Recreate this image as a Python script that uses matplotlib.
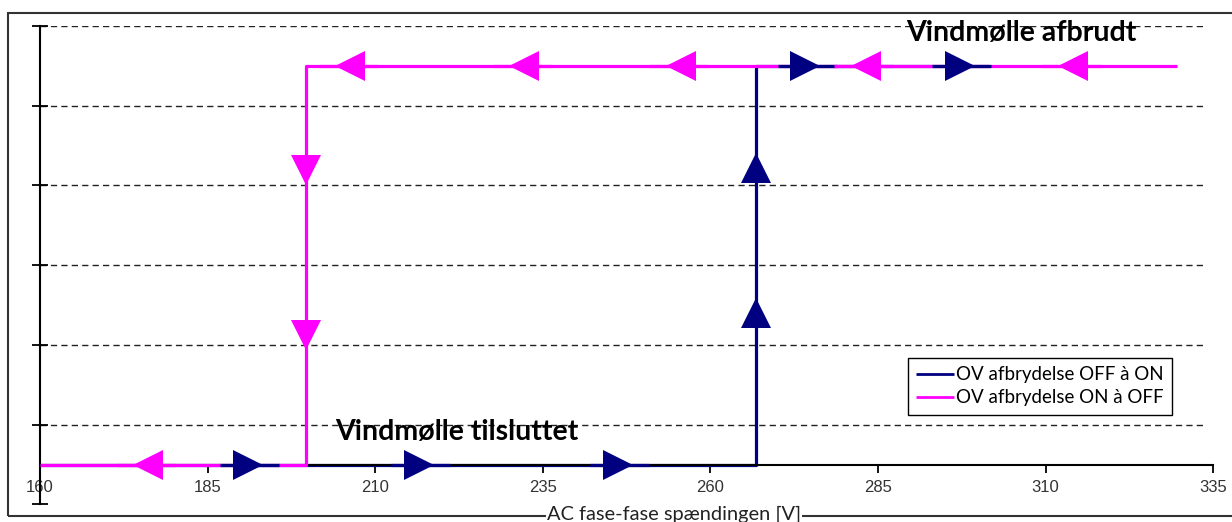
import numpy as np
import matplotlib
matplotlib.use("Agg")
import matplotlib.pyplot as plt
from matplotlib.patches import Rectangle

# serie 1: OV afbrydelse OFF -> ON (blå)
blue_x = [160, 266.8, 266.8, 301.5]
blue_y = [0, 0, 5, 5]
# serie 2: OV afbrydelse ON -> OFF (magenta)
pink_x = [329.6, 199.7, 199.7, 160]
pink_y = [5, 5, 0, 0]

# pilespidser (x, y, retning)
blue_arrows = [(193.3, 0, '>'), (218.7, 0, '>'), (248.4, 0, '>'),
               (266.8, 2.09, '^'), (266.8, 3.91, '^'),
               (276.4, 5, '>'), (299.5, 5, '>')]
pink_arrows = [(173.9, 0, '<'), (204.0, 5, '<'), (230.0, 5, '<'),
               (253.3, 5, '<'), (280.9, 5, '<'), (311.9, 5, '<'),
               (199.7, 3.51, 'v'), (199.7, 1.44, 'v')]

x_ticks = [160, 185, 210, 235, 260, 285, 310, 335]
grid_y = [0.5, 1.5, 2.5, 3.5, 4.5, 5.5]

navy = '#000080'
pink = '#ff00ff'

fig = plt.figure(figsize=(12.32, 5.22), dpi=100)
ax = fig.add_axes([40 / 1232, 1 - 504.4 / 522, (1213.3 - 40) / 1232, (504.4 - 26) / 522])
ax.set_xlim(160, 335)
ax.set_ylim(-0.5, 5.5)

# ydre ramme
fig.patches.append(Rectangle((8 / 1232, 1 - 516 / 522), 1.1, (516 - 13) / 522,
                             transform=fig.transFigure, fill=False,
                             edgecolor='#333333', linewidth=1.5, zorder=0))

for gy in grid_y:
    ax.plot([160, 333.5], [gy, gy], color='#222222', lw=1.0, dashes=(4.5, 3), zorder=1)

lw = 2.3
ax.plot(blue_x, blue_y, color=navy, lw=lw, solid_capstyle='butt', zorder=2,
        label='OV afbrydelse OFF à ON')
ax.plot(pink_x, pink_y, color=pink, lw=lw, solid_capstyle='butt', zorder=3,
        label='OV afbrydelse ON à OFF')

# pile: markør centreret 15 px bag spidsen
sx = 15 / 6.7006
sy = 15 / 79.7
off = {'>': (-sx, 0), '<': (sx, 0), '^': (0, -sy), 'v': (0, sy)}


def draw_arrows(arrows, color, z):
    for x, y, m in arrows:
        dx, dy = off[m]
        if m in '<>':
            d = 1 if m == '>' else -1
            ax.plot([x - d * 6.4, x + d * 2.4], [y, y], color=color, lw=lw,
                    solid_capstyle='butt', zorder=z)
        ax.plot(x + dx, y + dy, marker=m, color=color, ms=21.6, mew=0,
                linestyle='none', zorder=z)


draw_arrows(blue_arrows, navy, 4)
draw_arrows(pink_arrows, pink, 5)

for s in ['top', 'right']:
    ax.spines[s].set_visible(False)
ax.spines['bottom'].set_position(('data', 0))
ax.spines['left'].set_linewidth(1.5)
ax.spines['bottom'].set_linewidth(1.5)

ax.set_yticks(np.arange(-0.5, 5.6, 1.0))
ax.tick_params(axis='y', direction='inout', length=11, width=1.3, labelleft=False)
ax.set_xticks(x_ticks)
ax.set_xticklabels([str(t) for t in x_ticks], fontsize=12, color='#333333',
                   family='Liberation Sans')
ax.tick_params(axis='x', direction='out', length=6, width=1.3, pad=5)

ax.text(306.4, 5.41, 'Vindmølle afbrudt', fontsize=20.5, fontweight='bold',
        family='Lato', ha='center', va='center', zorder=6)
ax.text(222.1, 0.41, 'Vindmølle tilsluttet', fontsize=20.5, fontweight='bold',
        family='Lato', ha='center', va='center', zorder=6)

fig.text(674 / 1232, 1 - 514 / 522, 'AC fase-fase spændingen [V]', fontsize=14.4,
         family='Lato', ha='center', va='center', color='#222222',
         bbox=dict(facecolor='white', edgecolor='none', pad=1))

leg = ax.legend(loc='upper left', bbox_to_anchor=(908 / 1232, 1 - 358 / 522),
                bbox_transform=fig.transFigure,
                prop={'family': 'Lato', 'size': 13.5},
                fancybox=False, edgecolor='black', framealpha=1,
                handlelength=2.0, handletextpad=0.1, borderpad=0.45,
                labelspacing=0.3, borderaxespad=0)
leg.get_frame().set_linewidth(1.0)
for h in leg.get_lines():
    h.set_linewidth(2)

fig.savefig('out.png', dpi=100)
